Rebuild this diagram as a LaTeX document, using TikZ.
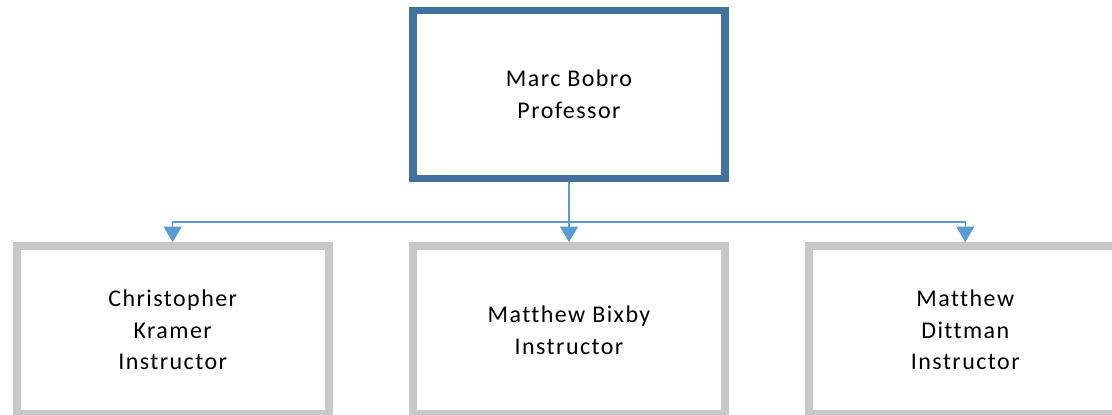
\documentclass[tikz,border=0pt]{standalone}
\usepackage{fontspec}
\setmainfont{Carlito}[LetterSpace=6,Ligatures=CommonOff]
\usepackage{xcolor}
\usepackage{tikz}
\usetikzlibrary{arrows.meta,positioning}
\definecolor{headblue}{RGB}{65,113,156}
\definecolor{linkblue}{RGB}{91,155,213}
\definecolor{boxgray}{RGB}{200,200,200}
\tikzset{
  headbox/.style={rectangle, draw=headblue, fill=white, line width=7.3pt,
    minimum width=312pt, minimum height=168pt, align=center,
    font=\fontsize{24}{31.7}\selectfont, inner sep=0pt},
  staffbox/.style={rectangle, draw=boxgray, fill=white, line width=7.7pt,
    minimum width=312pt, minimum height=168pt, align=center,
    font=\fontsize{24}{31.7}\selectfont, inner sep=0pt},
  reportarrow/.style={-{Triangle[length=15.5pt,width=18pt]}, draw=linkblue, line width=1.3pt},
}

\begin{document}
\begin{tikzpicture}[x=1pt, y=1pt, node distance=60pt and 76.6pt]
  \useasboundingbox (0,0) rectangle (1112,-415);

  % Professor (top)
  \node[headbox] (bobro) at (569,-94.5) {Marc Bobro\\Professor};

  % Instructors (bottom row)
  \node[staffbox, below=of bobro] (bixby) {Matthew Bixby\\Instructor};
  \node[staffbox, left=of bixby] (kramer) {Christopher\\Kramer\\Instructor};
  \node[staffbox, right=of bixby] (dittman) {Matthew\\Dittman\\Instructor};

  % Arrows: professor to instructors
  \coordinate[below=39.7pt of bobro.south] (split);
  \draw[reportarrow] (bobro.south) -- (split) -| (kramer.north);
  \draw[reportarrow] (bobro.south) -- (bixby.north);
  \draw[reportarrow] (bobro.south) -- (split) -| (dittman.north);

\end{tikzpicture}
\end{document}
